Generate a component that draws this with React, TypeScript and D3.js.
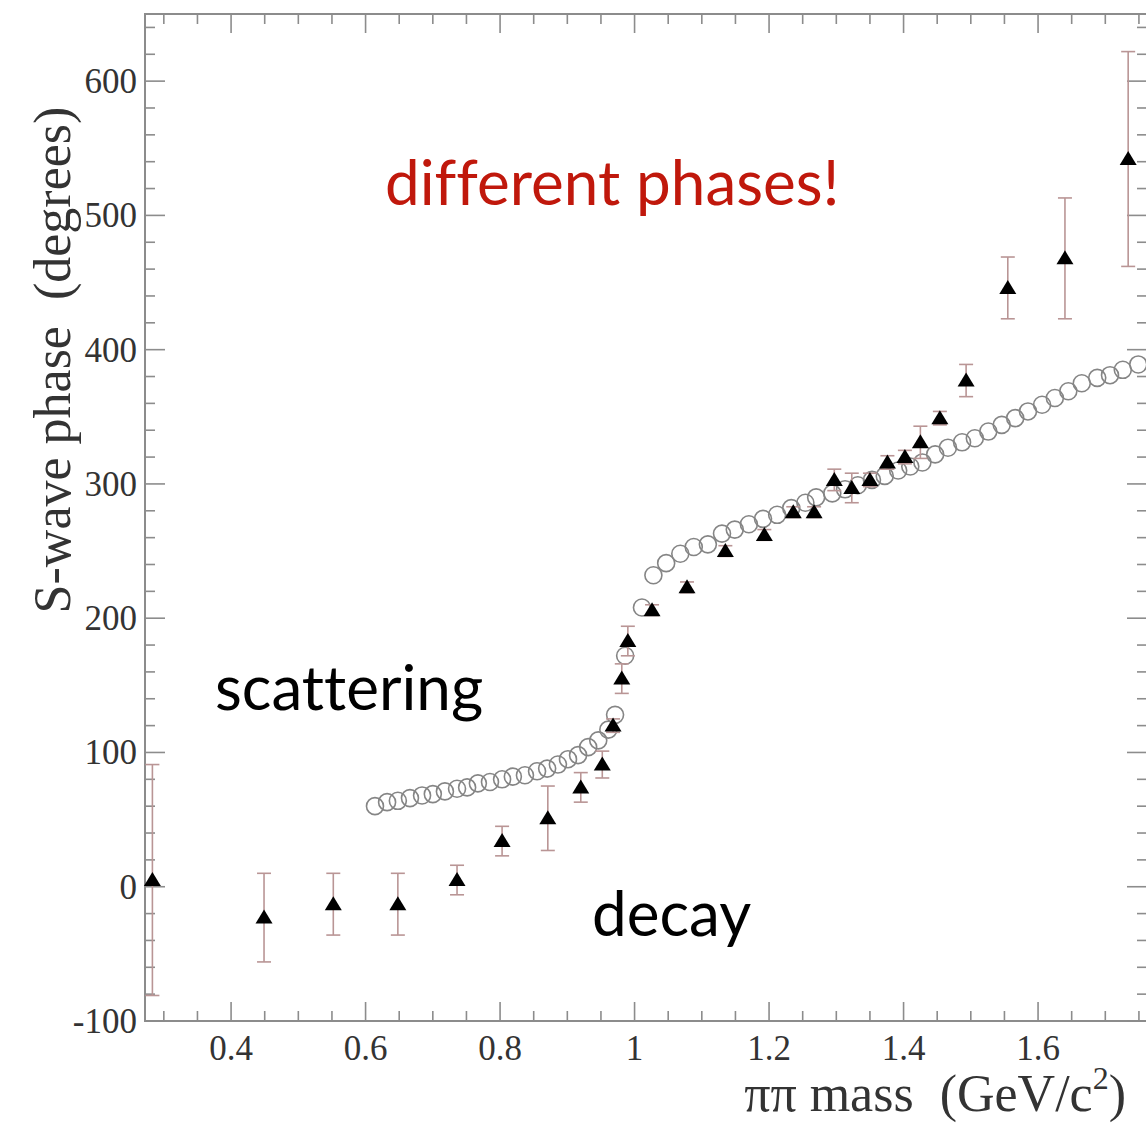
import { useEffect, useRef } from 'react';
import * as d3 from 'd3';

// decay (triangles): mass, phase, error
const decayMass = [0.283, 0.449, 0.552, 0.648, 0.736, 0.803, 0.871, 0.920, 0.952, 0.968, 0.981, 0.990, 1.026, 1.078, 1.135, 1.193, 1.236, 1.267, 1.297, 1.323, 1.350, 1.376, 1.402, 1.425, 1.454, 1.493, 1.555, 1.640, 1.734];
const decayPhase = [5, -23, -13, -13, 5, 34, 51, 74, 91, 120, 155, 183, 206, 223, 250, 262, 279, 279, 303, 297, 303, 316, 320, 331, 349, 377, 446, 468, 542];
const decayErr = [86, 33, 23, 23, 11, 11, 24, 11, 10, 5, 11, 11, 4, 4, 4, 4, 4, 4, 8, 11, 5, 5, 5, 12, 5, 12, 23, 45, 80];

// scattering (open circles): mass, phase
const scatMass = [0.614, 0.632, 0.648, 0.666, 0.684, 0.700, 0.718, 0.736, 0.751, 0.767, 0.785, 0.803, 0.819, 0.837, 0.855, 0.870, 0.886, 0.901, 0.916, 0.931, 0.946, 0.961, 0.971, 0.986, 1.011,
  1.028, 1.047, 1.068, 1.088, 1.109, 1.130, 1.149, 1.170, 1.191, 1.212, 1.233, 1.254, 1.270, 1.294, 1.313, 1.332, 1.353, 1.372, 1.392, 1.410, 1.428, 1.447, 1.466, 1.487, 1.506, 1.526, 1.546, 1.566, 1.585, 1.606, 1.625, 1.645, 1.665, 1.688, 1.707, 1.726, 1.749];
const scatPhase = [60, 63, 64, 66, 68, 69, 71, 73, 74, 77, 78, 80, 82, 83, 86, 88, 91, 95, 98, 104, 109, 117, 128, 172, 208,
  232, 241, 248, 253, 255, 263, 266, 270, 274, 277, 282, 286, 290, 293, 296, 299, 303, 306, 310, 313, 316, 322, 327, 331, 334, 339, 344, 349, 354, 359, 364, 369, 375, 379, 381, 385, 389];

const xMajor = [0.4, 0.6, 0.8, 1.0, 1.2, 1.4, 1.6];
const xMajorLabels = ['0.4', '0.6', '0.8', '1', '1.2', '1.4', '1.6'];
const yMajor = [-100, 0, 100, 200, 300, 400, 500, 600];

const W = 1146;
const H = 1123;

const App = () => {
  const svgRef = useRef<SVGSVGElement>(null);

  useEffect(() => {
    const svg = d3.select(svgRef.current);
    svg.selectAll('*').remove();

    const left = 145, right = 1147, top = 14, bottom = 1021;

    const x = d3.scaleLinear().domain([0.272, 1.762]).range([left, right]);
    const y = d3.scaleLinear().domain([-100, 650]).range([bottom, top]);

    const axisColor = '#8c8c8c';
    const labelColor = '#333';
    const serif = '"Liberation Serif", "DejaVu Serif", serif';

    svg.append('rect')
      .attr('width', W).attr('height', H).attr('fill', '#fff');

    // frame
    svg.append('rect')
      .attr('x', left).attr('y', top)
      .attr('width', right - left).attr('height', bottom - top)
      .attr('fill', 'none').attr('stroke', axisColor).attr('stroke-width', 2);

    const ticks = svg.append('g').attr('stroke', axisColor).attr('stroke-width', 1.6);

    // x ticks, bottom + top
    const xMinor = d3.range(0.3, 1.76, 0.05);
    xMinor.forEach(v => {
      const isMajor = xMajor.some(m => Math.abs(m - v) < 1e-6);
      const len = isMajor ? 19 : 10;
      ticks.append('line')
        .attr('x1', x(v)).attr('x2', x(v))
        .attr('y1', bottom).attr('y2', bottom - len);
      ticks.append('line')
        .attr('x1', x(v)).attr('x2', x(v))
        .attr('y1', top).attr('y2', top + len);
    });

    // y ticks, left + right
    const yMinor = d3.range(-100, 641, 20);
    yMinor.forEach(v => {
      const isMajor = v % 100 === 0;
      const len = isMajor ? 20 : 10;
      ticks.append('line')
        .attr('x1', left).attr('x2', left + len)
        .attr('y1', y(v)).attr('y2', y(v));
      ticks.append('line')
        .attr('x1', right).attr('x2', right - len)
        .attr('y1', y(v)).attr('y2', y(v));
    });

    // tick labels
    svg.append('g')
      .selectAll('text')
      .data(xMajor)
      .enter().append('text')
      .attr('x', d => x(d))
      .attr('y', 1060)
      .attr('text-anchor', 'middle')
      .style('font-family', serif)
      .style('font-size', '35px')
      .style('fill', labelColor)
      .text((d, i) => xMajorLabels[i]);

    svg.append('g')
      .selectAll('text')
      .data(yMajor)
      .enter().append('text')
      .attr('x', 137)
      .attr('y', d => y(d) + 12)
      .attr('text-anchor', 'end')
      .style('font-family', serif)
      .style('font-size', '35px')
      .style('fill', labelColor)
      .text(d => String(d));

    // axis titles
    svg.append('text')
      .attr('transform', 'translate(70, 360) rotate(-90)')
      .attr('text-anchor', 'middle')
      .style('font-family', serif)
      .style('font-size', '52px')
      .style('fill', labelColor)
      .text('S-wave phase\u00a0\u00a0(degrees)');

    const xt = svg.append('text')
      .attr('x', 1126)
      .attr('y', 1111)
      .attr('text-anchor', 'end')
      .style('font-family', serif)
      .style('font-size', '52px')
      .style('fill', labelColor);
    xt.append('tspan').text('\u03c0\u03c0 mass\u00a0\u00a0(GeV/c');
    xt.append('tspan').attr('dy', -22).style('font-size', '32px').text('2');
    xt.append('tspan').attr('dy', 22).text(')');

    // scattering circles
    svg.append('g')
      .selectAll('circle')
      .data(scatMass)
      .enter().append('circle')
      .attr('cx', d => x(d))
      .attr('cy', (d, i) => y(scatPhase[i]))
      .attr('r', 8.5)
      .attr('fill', 'none')
      .attr('stroke', '#858585')
      .attr('stroke-width', 1.6);

    // decay error bars
    const errColor = '#b99595';
    const eb = svg.append('g').attr('stroke', errColor).attr('stroke-width', 1.6);
    decayMass.forEach((m, i) => {
      const cx = x(m);
      const y1 = y(decayPhase[i] + decayErr[i]);
      const y2 = y(decayPhase[i] - decayErr[i]);
      eb.append('line').attr('x1', cx).attr('x2', cx).attr('y1', y1).attr('y2', y2);
      eb.append('line').attr('x1', cx - 7).attr('x2', cx + 7).attr('y1', y1).attr('y2', y1);
      eb.append('line').attr('x1', cx - 7).attr('x2', cx + 7).attr('y1', y2).attr('y2', y2);
    });

    // decay triangles
    svg.append('g')
      .selectAll('path')
      .data(decayMass)
      .enter().append('path')
      .attr('transform', (d, i) => `translate(${x(d)},${y(decayPhase[i])})`)
      .attr('d', 'M0,-8L8.5,6L-8.5,6Z')
      .attr('fill', '#000');

    // annotations
    const sans = 'Lato, "Open Sans", sans-serif';
    const note = (label: string, px: number, py: number, color: string) =>
      svg.append('text')
        .attr('x', px).attr('y', py)
        .style('font-family', sans).style('font-size', '62px')
        .style('font-variant-ligatures', 'none')
        .style('fill', color)
        .text(label);
    note('different phases!', 385, 205, '#c0180c');
    note('scattering', 215, 710, '#000');
    note('decay', 592, 936, '#000');
  }, []);

  return (
    <svg
      ref={svgRef}
      width={W}
      height={H}
      style={{ position: 'absolute', left: 0, top: 0, display: 'block' }}
    />
  );
};

export default App;
